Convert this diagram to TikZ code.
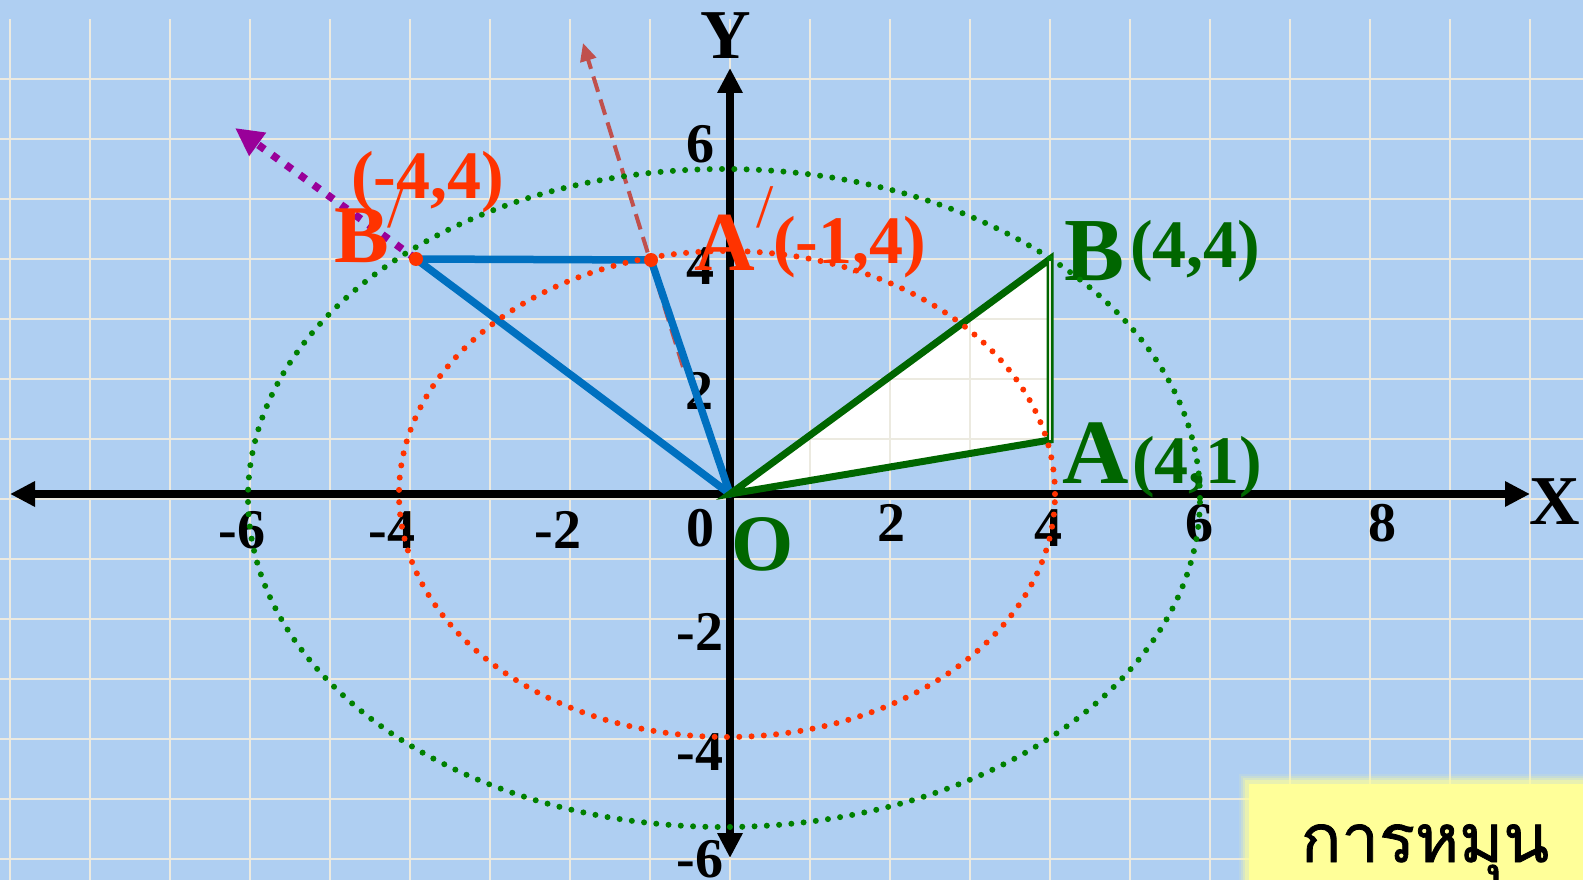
\documentclass[tikz,border=0pt]{standalone}
\usepackage{fontspec}
\setmainfont{Liberation Serif}
\newfontfamily\thaifont[Script=Thai,FakeBold=1.2]{Loma}
\usetikzlibrary{arrows.meta}
\definecolor{bgblue}{RGB}{175,207,242}
\definecolor{gridc}{RGB}{236,234,224}
\definecolor{tgreen}{RGB}{0,102,0}
\definecolor{dgreen}{RGB}{0,128,0}
\definecolor{tred}{RGB}{255,51,0}
\definecolor{lblue}{RGB}{0,112,192}
\definecolor{purp}{RGB}{153,0,153}
\definecolor{dred}{RGB}{192,80,77}
\definecolor{ybox}{RGB}{255,255,153}
\begin{document}
\begin{tikzpicture}[x=1pt,y=-1pt,
  gridline/.style={gridc,line width=2pt},
  axisline/.style={black,line width=7.5pt,{Triangle[length=25pt,width=24pt]}-{Triangle[length=25pt,width=24pt]}},
  ticklbl/.style={inner sep=0pt,anchor=center,font=\fontsize{56}{56}\selectfont\bfseries},
  axlbl/.style={inner sep=0pt,anchor=center,font=\fontsize{70}{70}\selectfont\bfseries},
  bigletter/.style={inner sep=0pt,anchor=base west,font=\fontsize{90}{90}\selectfont\bfseries},
  coordlbl/.style={inner sep=0pt,anchor=base west,font=\fontsize{68}{68}\selectfont\bfseries},
  primelbl/.style={inner sep=0pt,anchor=base,text=tred,font=\fontsize{62}{62}\selectfont},
  blueseg/.style={lblue,line width=7.5pt,line cap=round,line join=round},
  reddots/.style={tred,line width=6pt,line cap=round,dash pattern=on 0pt off 12.3pt},
  greendots/.style={dgreen,line width=6pt,line cap=round,dash pattern=on 0pt off 12.3pt},
  purpdots/.style={purp,line width=7.5pt,dash pattern=on 7.5pt off 9.5pt,-{Triangle[length=28pt,width=27pt]}},
  reddash/.style={dred,line width=4pt,dash pattern=on 16pt off 8pt,-{Triangle[length=18pt,width=16pt]}},
  ptdot/.style={circle,fill=tred,inner sep=0pt,minimum size=14pt}]
\useasboundingbox (0,0) rectangle (1583,880);
\fill[bgblue] (0,0) rectangle (1583,880);
% points
\coordinate (O) at (730,494);
\coordinate (A) at (1050,440);
\coordinate (B) at (1050,259);
\coordinate (Ap) at (651,260);
\coordinate (Bp) at (416,259);
\coordinate (xl) at (10,494);
\coordinate (xr) at (1530,494);
\coordinate (yt) at (730,68);
\coordinate (yb) at (730,858);
\coordinate (ptip) at (235,128);
\coordinate (dstart) at (683,367);
\coordinate (dtip) at (583,43);
% triangle fill
\fill[white] (O) -- (A) -- (B) -- cycle;
% grid
\foreach \i in {0,...,19} \draw[gridline] ({10+80*\i},19) -- ({10+80*\i},880);
\foreach \j in {0,...,13} \draw[gridline] (0,{79+60*\j}) -- (1583,{79+60*\j});
% axes
\draw[axisline] (xl) -- (xr);
\draw[axisline] (yb) -- (yt);
\node[axlbl] (Xl) at (1555,502) {X};
\node[axlbl] (Yl) at (726,36) {Y};
% ticks
\node[ticklbl] (tx1) at (242,530) {-6};
\node[ticklbl] (tx2) at (392,530) {-4};
\node[ticklbl] (tx3) at (558,530) {-2};
\node[ticklbl] (tx4) at (700,528) {0};
\node[ticklbl] (tx5) at (891,523) {2};
\node[ticklbl] (tx6) at (1048,528) {4};
\node[ticklbl] (tx7) at (1199,523) {6};
\node[ticklbl] (tx8) at (1382,523) {8};
\node[ticklbl] (ty1) at (700,144) {6};
\node[ticklbl] (ty2) at (700,266) {4};
\node[ticklbl] (ty3) at (699,391) {2};
\node[ticklbl] (ty4) at (700,632) {-2};
\node[ticklbl] (ty5) at (700,752) {-4};
\node[ticklbl] (ty6) at (700,859) {-6};
% dashed red arrow (under blue)
\draw[reddash] (dstart) -- (dtip);
% blue rotated triangle
\draw[blueseg] (Bp) -- (Ap) -- (O) -- cycle;
% green triangle
\draw[tgreen,line width=7pt,line join=miter] (O) -- (A) -- (B) -- cycle;
\draw[gridc,line width=1.6pt] (B) -- (A);
% purple arrow
\draw[purpdots] (Bp) -- (ptip);
% labels
\node[axlbl,text=tgreen,font=\fontsize{80}{80}\selectfont\bfseries] (Ol) at (763,544) {O};
\node[bigletter,text=tgreen] (Bl) at (1064,280) {B};
\node[coordlbl,text=tgreen] (Bc) at (1130,267) {(4,4)};
\node[bigletter,text=tgreen,font=\fontsize{92}{92}\selectfont\bfseries] (Al) at (1062,483) {A};
\node[coordlbl,text=tgreen] (Ac) at (1132,483) {(4,1)};
\node[bigletter,text=tred,font=\fontsize{84}{84}\selectfont\bfseries] (Apl) at (694,270) {A};
\node[primelbl] (App) at (765,227) {/};
\node[coordlbl,text=tred] (Apc) at (773,263) {(-1,4)};
\node[bigletter,text=tred,font=\fontsize{82}{82}\selectfont\bfseries] (Bpl) at (334,262) {B};
\node[primelbl] (Bpp) at (396,227) {/};
\node[coordlbl,text=tred] (Bpc) at (351,198) {(-4,4)};
% dotted circles
\draw[greendots] (724,498) ellipse [x radius=476pt, y radius=329pt];
\draw[reddots] (727,494) ellipse [x radius=328pt, y radius=243pt];
% rotated point markers
\node[ptdot] (ApDot) at (Ap) {};
\node[ptdot] (BpDot) at (Bp) {};
% yellow title box
\foreach \k/\o in {8/0.12,6/0.2,4/0.3,2/0.45} \fill[ybox,opacity=\o] ({1247-\k},{782-\k}) rectangle (1590,890);
\fill[ybox] (1249,784) rectangle (1590,890);
\node[inner sep=0pt,anchor=base,font=\thaifont\fontsize{67}{67}\selectfont] (title) at (1425,862) {การหมุน};
\end{tikzpicture}
\end{document}
